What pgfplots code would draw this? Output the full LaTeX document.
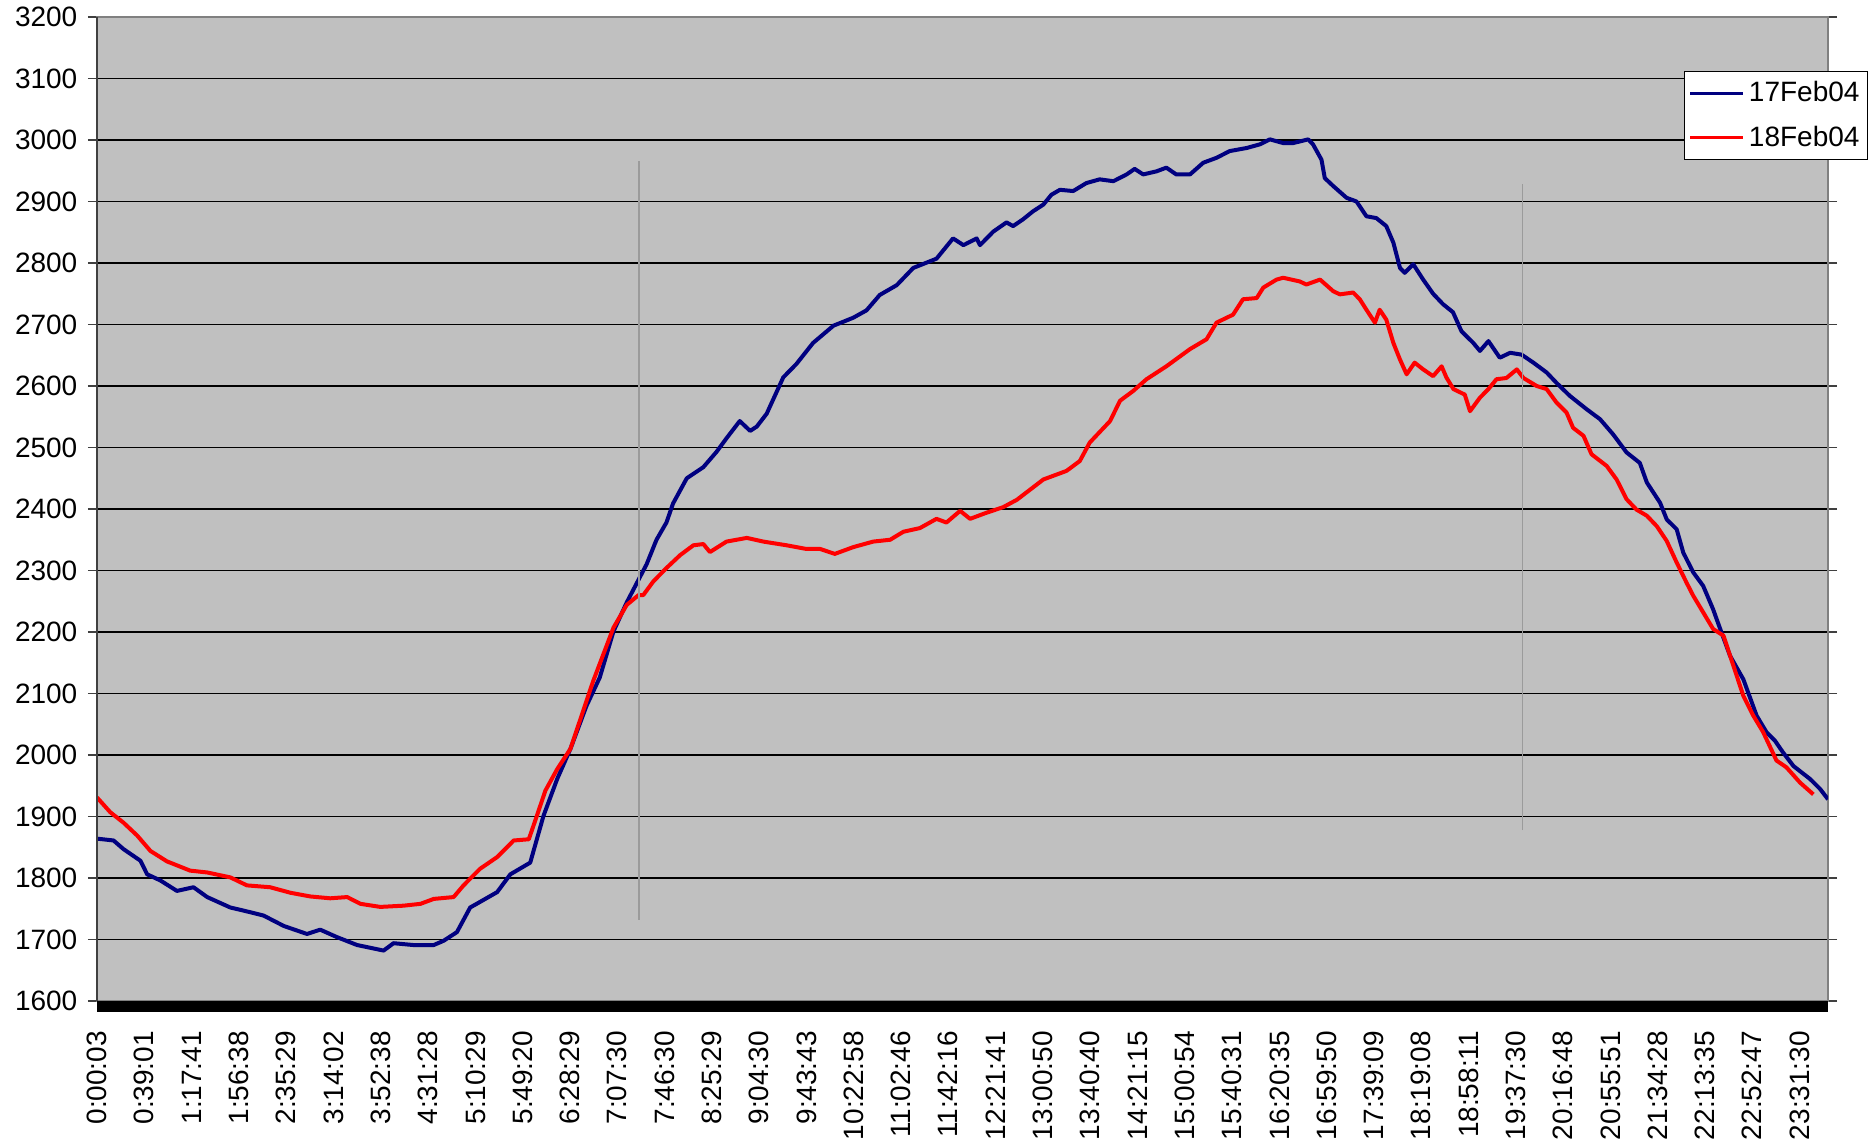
\documentclass[border=0pt]{standalone}
\usepackage{fontspec}
\setmainfont{Liberation Sans}
\usepackage{pgfplots}
\usepackage{pgfplotstable}
\pgfplotsset{compat=1.18}
\definecolor{bgc}{RGB}{192,192,192}
\definecolor{navyc}{RGB}{0,0,128}
\definecolor{redc}{RGB}{255,0,0}
\definecolor{vlc}{RGB}{155,155,155}
\definecolor{framec}{RGB}{128,128,128}

\pgfplotstableread{
u v
0 1864
0.35 1861
0.56 1847
0.92 1828
1.06 1806
1.34 1796
1.69 1779
2.04 1785
2.33 1769
2.82 1752
3.10 1747
3.52 1739
3.95 1722
4.44 1709
4.72 1716
5.07 1704
5.50 1691
6.06 1682
6.27 1694
6.69 1691
7.12 1691
7.33 1698
7.61 1712
7.89 1752
8.46 1777
8.74 1806
9.16 1825
9.44 1901
9.73 1961
10.01 2010
10.35 2080
10.63 2126
10.92 2201
11.20 2248
11.45 2285
11.62 2310
11.83 2350
12.04 2378
12.18 2409
12.47 2450
12.82 2468
13.10 2493
13.31 2515
13.59 2543
13.81 2527
13.95 2534
14.16 2555
14.51 2614
14.79 2636
15.14 2670
15.57 2698
15.99 2711
16.27 2723
16.55 2748
16.91 2764
17.26 2792
17.75 2807
18.10 2840
18.32 2829
18.60 2840
18.67 2829
18.95 2851
19.23 2866
19.37 2860
19.58 2871
19.79 2884
20.01 2895
20.18 2911
20.36 2919
20.64 2917
20.92 2930
21.20 2936
21.49 2933
21.77 2944
21.94 2953
22.12 2944
22.40 2949
22.61 2955
22.82 2944
23.11 2944
23.39 2963
23.67 2971
23.95 2982
24.31 2987
24.59 2993
24.80 3001
25.08 2995
25.29 2995
25.61 3001
25.71 2993
25.89 2968
25.96 2938
26.14 2925
26.42 2906
26.63 2900
26.84 2876
27.05 2873
27.26 2860
27.41 2833
27.55 2792
27.65 2784
27.83 2798
28.04 2773
28.25 2750
28.46 2733
28.67 2720
28.85 2689
29.10 2670
29.24 2657
29.42 2673
29.66 2646
29.88 2654
30.12 2651
30.37 2638
30.65 2622
30.86 2605
31.14 2584
31.50 2562
31.78 2546
32.06 2521
32.34 2492
32.62 2475
32.77 2443
33.05 2410
33.19 2383
33.40 2367
33.54 2329
33.75 2297
33.96 2275
34.17 2237
34.32 2205
34.53 2161
34.81 2123
35.09 2064
35.30 2037
35.48 2023
35.65 2004
35.87 1982
36.22 1961
36.43 1945
36.60 1928
}\bluedata

\pgfplotstableread{
u v
0 1931
0.28 1907
0.56 1890
0.85 1869
1.13 1844
1.48 1827
1.97 1812
2.33 1809
2.82 1801
3.17 1788
3.66 1785
4.09 1776
4.51 1770
4.93 1767
5.29 1769
5.57 1758
5.99 1753
6.48 1755
6.84 1758
7.12 1766
7.54 1769
7.75 1788
8.10 1815
8.46 1834
8.81 1861
9.13 1863
9.30 1901
9.48 1942
9.73 1977
10.01 2010
10.49 2120
10.92 2207
11.20 2244
11.45 2260
11.55 2260
11.76 2282
12.04 2304
12.33 2325
12.61 2341
12.82 2343
12.96 2330
13.31 2347
13.74 2353
14.09 2347
14.58 2341
15.00 2335
15.29 2335
15.60 2327
15.99 2338
16.41 2347
16.77 2350
17.05 2363
17.40 2369
17.75 2384
17.96 2378
18.25 2397
18.46 2384
18.81 2394
19.16 2403
19.45 2415
20.01 2448
20.50 2462
20.78 2478
20.99 2508
21.42 2543
21.63 2576
21.91 2592
22.19 2611
22.61 2632
23.11 2660
23.46 2676
23.67 2703
24.02 2716
24.23 2741
24.52 2743
24.66 2760
24.94 2773
25.08 2776
25.43 2770
25.57 2765
25.86 2773
26.14 2754
26.28 2749
26.56 2752
26.70 2741
26.84 2724
27.02 2703
27.12 2724
27.26 2708
27.41 2670
27.55 2643
27.69 2619
27.86 2638
28.04 2627
28.25 2616
28.43 2632
28.53 2614
28.68 2595
28.92 2586
29.03 2559
29.24 2581
29.42 2595
29.59 2611
29.80 2613
30.02 2627
30.16 2613
30.44 2600
30.65 2595
30.86 2573
31.07 2557
31.21 2532
31.43 2519
31.60 2489
31.92 2470
32.13 2448
32.34 2416
32.55 2399
32.77 2389
32.98 2372
33.19 2348
33.40 2313
33.61 2280
33.75 2259
33.96 2232
34.17 2205
34.39 2194
34.60 2145
34.81 2096
35.02 2064
35.23 2037
35.51 1991
35.72 1980
36.01 1955
36.29 1936
}\reddata

\begin{document}
\begin{tikzpicture}
\begin{axis}[
  scale only axis,
  width=865.5pt, height=492pt,
  xmin=0, xmax=36.6, ymin=1600, ymax=3200,
  ytick={1600,1700,...,3200},
  xtick={0,1,...,36},
  xticklabels={0:00:03,0:39:01,1:17:41,1:56:38,2:35:29,3:14:02,3:52:38,4:31:28,5:10:29,5:49:20,6:28:29,7:07:30,7:46:30,8:25:29,9:04:30,9:43:43,10:22:58,11:02:46,11:42:16,12:21:41,13:00:50,13:40:40,14:21:15,15:00:54,15:40:31,16:20:35,16:59:50,17:39:09,18:19:08,18:58:11,19:37:30,20:16:48,20:55:51,21:34:28,22:13:35,22:52:47,23:31:30},
  /pgf/number format/assume math mode=true,
  /pgf/number format/1000 sep={},
  tick label style={font=\fontsize{14}{16}\selectfont},
  ymajorgrids,
  major grid style={draw=black, line width=0.6pt},
  axis background/.style={fill=bgc},
  axis line style={draw=framec, line width=1.2pt},
  tick align=outside,
  major tick length=4.5pt,
  ytick style={draw=black!75, line width=0.6pt},
  xtick style={draw=none},
  xticklabel style={rotate=90, anchor=east, xshift=-7pt},
  yticklabel style={xshift=-1.8pt},
  legend style={at={(1.0231,0.9451)}, anchor=north east, draw=black, line width=0.5pt, fill=white,
    font=\fontsize{14}{16}\selectfont, inner xsep=2pt, inner ysep=3pt, row sep=6.5pt,
    cells={anchor=west}},
  legend image code/.code={\draw[#1, line width=1.5pt] (0pt,0pt) -- (26.5pt,0pt);},
]
\addplot[navyc, line width=2pt, line join=round] table[x=u, y=v] {\bluedata};
\addlegendentry{17Feb04}
\addplot[redc, line width=2pt, line join=round] table[x=u, y=v] {\reddata};
\addlegendentry{18Feb04}
\addplot[vlc, line width=0.9pt, forget plot] coordinates {(11.46,1732) (11.46,2966)};
\addplot[vlc, line width=0.9pt, forget plot] coordinates {(30.14,1878) (30.14,2928)};
\end{axis}
\draw[black!75, line width=1pt] (current axis.south west) -- (current axis.north west);
\fill[black] (current axis.south west) rectangle ([yshift=-5.5pt]current axis.south east);
\path ([shift={(-48.5pt,-71.5pt)}]current axis.south west) rectangle ([shift={(21pt,8.5pt)}]current axis.north east);
\end{tikzpicture}
\end{document}
